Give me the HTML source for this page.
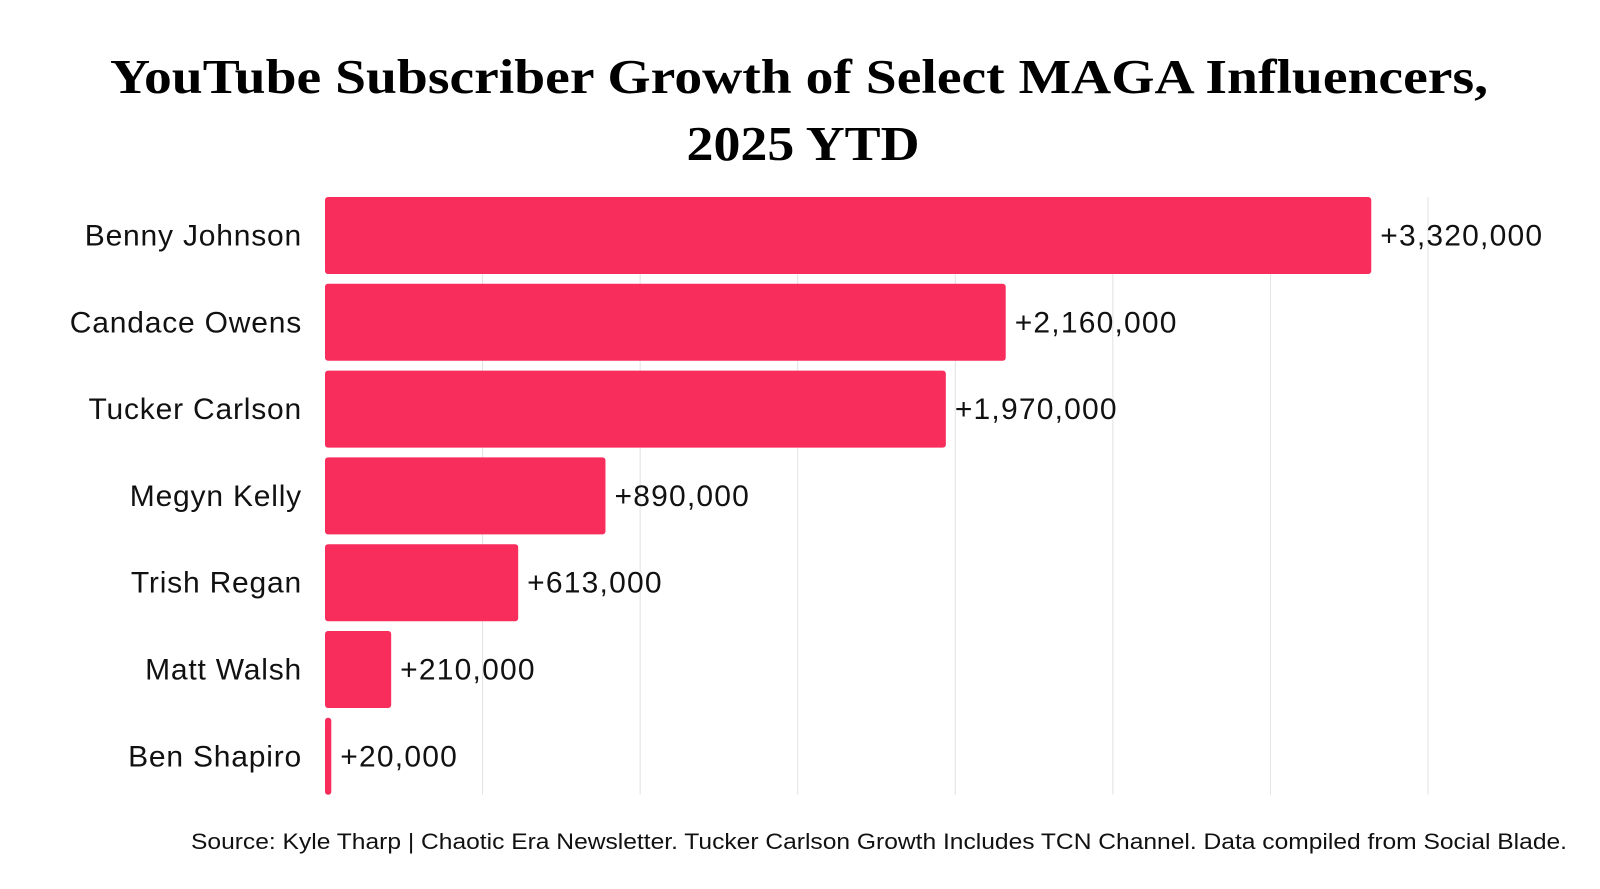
<!DOCTYPE html>
<html><head><meta charset="utf-8"><style>
body{margin:0;background:#fff;width:1600px;height:889px;overflow:hidden}
svg{display:block}
</style></head><body>
<svg id="chart" width="1600" height="889">
<text x="799" y="93" text-anchor="middle" font-family="Liberation Serif, serif" font-weight="bold" font-size="49" fill="#000" textLength="1378" lengthAdjust="spacingAndGlyphs">YouTube Subscriber Growth of Select MAGA Influencers,</text>
<text x="803" y="160" text-anchor="middle" font-family="Liberation Serif, serif" font-weight="bold" font-size="49" fill="#000" textLength="233" lengthAdjust="spacingAndGlyphs">2025 YTD</text>
<g id="grid"></g><g id="bars"></g>
<text x="191" y="849" font-family="Liberation Sans, sans-serif" font-size="22" fill="#111" textLength="1376" lengthAdjust="spacingAndGlyphs">Source: Kyle Tharp | Chaotic Era Newsletter. Tucker Carlson Growth Includes TCN Channel. Data compiled from Social Blade.</text>
</svg>
<script>
const categories=["Benny Johnson","Candace Owens","Tucker Carlson","Megyn Kelly","Trish Regan","Matt Walsh","Ben Shapiro"];
const values=[3320000,2160000,1970000,890000,613000,210000,20000];
const valueLabels=["+3,320,000","+2,160,000","+1,970,000","+890,000","+613,000","+210,000","+20,000"];
const gridTicks=[500000,1000000,1500000,2000000,2500000,3000000,3500000];
const NS="http://www.w3.org/2000/svg";
const x0=325,pxPer=(1428-325)/3500000,yTop=197,step=86.8,bh=77;
const xs=v=>x0+v*pxPer;
const ys=i=>yTop+i*step;
const grid=document.getElementById('grid'),bars=document.getElementById('bars');
function mk(tag,attrs,parent){const e=document.createElementNS(NS,tag);for(const k in attrs)e.setAttribute(k,attrs[k]);parent.appendChild(e);return e;}
gridTicks.forEach(t=>{
 const l=mk('line',{x1:xs(t),x2:xs(t),y1:yTop,y2:yTop+step*categories.length-10,stroke:'#e2e2e2','stroke-width':1},grid);
 
 
});
categories.forEach((c,i)=>{
 const y=ys(i);
 const r=mk('rect',{x:x0,y:y,width:Math.max(xs(values[i])-x0,3),height:bh,rx:3,fill:'#F92D5C'},bars);
 
 
 const lt=mk('text',{x:302,y:y+bh/2+10,'text-anchor':'end','font-family':'Liberation Sans, sans-serif','font-size':30,'letter-spacing':0.8,fill:'#111'},bars);
 lt.textContent=c;
 
 
 const vt=mk('text',{x:Math.max(xs(values[i]),x0+3)+9,y:y+bh/2+10,'font-family':'Liberation Sans, sans-serif','font-size':30,'letter-spacing':1.2,fill:'#111'},bars);
 vt.textContent=valueLabels[i];
 
 
});
</script>
</body></html>
